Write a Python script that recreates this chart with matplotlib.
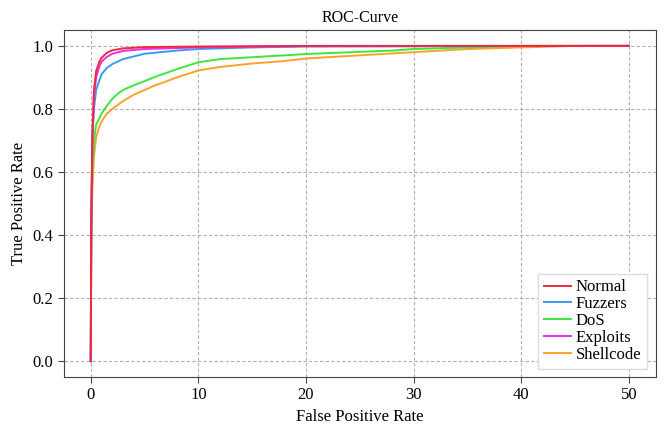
"""ROC curves for the per-class detector (FPR in percent)."""
import matplotlib
matplotlib.use("Agg")
import matplotlib.pyplot as plt

plt.rcParams["font.family"] = ["Liberation Serif", "DejaVu Serif"]

# FPR (%) / TPR points
normal_fpr = [0, 0.05, 0.15, 0.3, 0.5, 0.8, 1.0, 1.5, 2.0, 3.0, 5.0, 10, 20, 50]
normal_tpr = [0, 0.45, 0.72, 0.86, 0.92, 0.95, 0.962, 0.978, 0.986, 0.992, 0.996, 0.998, 1.0, 1.0]

fuzzers_fpr = [0, 0.05, 0.15, 0.3, 0.5, 1.0, 1.5, 2.0, 3.0, 5.0, 8.0, 10, 15, 20, 50]
fuzzers_tpr = [0, 0.45, 0.7, 0.8, 0.86, 0.91, 0.93, 0.942, 0.958, 0.975, 0.985, 0.99, 0.995, 0.998, 1.0]

dos_fpr = [0, 0.05, 0.15, 0.3, 0.5, 0.8, 1.0, 1.5, 2.0, 2.5, 3.0, 4.0, 5.0, 6.0, 7.0, 8.0,
           10, 12, 15, 18, 20, 22, 25, 28, 30, 35, 40, 50]
dos_tpr = [0, 0.4, 0.6, 0.7, 0.75, 0.77, 0.785, 0.81, 0.832, 0.848, 0.86, 0.875, 0.888, 0.902, 0.914, 0.926,
           0.948, 0.958, 0.964, 0.97, 0.974, 0.977, 0.981, 0.985, 0.99, 0.995, 1.0, 1.0]

exploits_fpr = [0, 0.05, 0.15, 0.3, 0.5, 0.8, 1.0, 1.5, 2.0, 3.0, 5.0, 10, 20, 50]
exploits_tpr = [0, 0.42, 0.7, 0.84, 0.9, 0.935, 0.95, 0.965, 0.975, 0.984, 0.99, 0.995, 0.999, 1.0]

shell_fpr = [0, 0.05, 0.15, 0.3, 0.5, 0.8, 1.0, 1.5, 2.0, 3.0, 4.0, 5.0, 6.0, 7.0, 8.0,
             10, 12, 15, 18, 20, 25, 30, 35, 40, 45, 50]
shell_tpr = [0, 0.35, 0.55, 0.65, 0.71, 0.745, 0.76, 0.785, 0.8, 0.825, 0.845, 0.86, 0.875, 0.887, 0.9,
             0.922, 0.933, 0.944, 0.952, 0.96, 0.97, 0.98, 0.99, 0.995, 1.0, 1.0]

labels = ["Normal", "Fuzzers", "DoS", "Exploits", "Shellcode"]
colors = ["#f0283c", "#3a9cf0", "#3ee63e", "#e632e6", "#f8a42a"]
curves = [(normal_fpr, normal_tpr), (fuzzers_fpr, fuzzers_tpr), (dos_fpr, dos_tpr),
          (exploits_fpr, exploits_tpr), (shell_fpr, shell_tpr)]

fig = plt.figure(figsize=(6.65, 4.24), dpi=100)
ax = fig.add_axes([0.096, 0.111, 0.89, 0.818])

# draw order: lower curves first so red/magenta sit on top like the reference
order = [4, 2, 1, 3, 0]
handles = {}
for i in order:
    x, y = curves[i]
    (h,) = ax.plot(x, y, color=colors[i], linewidth=1.4, label=labels[i])
    handles[i] = h

ax.set_xticks([0, 10, 20, 30, 40, 50])
ax.set_yticks([0.0, 0.2, 0.4, 0.6, 0.8, 1.0])
ax.grid(True, linestyle=(0, (3, 2)), color="#b0b0b0", linewidth=0.8)
ax.tick_params(labelsize=12, direction="out", length=4, color="#444444")
for s in ax.spines.values():
    s.set_color("#444444")

ax.set_title("ROC-Curve", fontsize=11.5)
ax.set_xlabel("False Positive Rate", fontsize=12)
ax.set_ylabel("True Positive Rate", fontsize=12)
ax.legend([handles[i] for i in range(5)], labels, loc="lower right", fontsize=12,
          handlelength=1.6, handletextpad=0.3, labelspacing=0.05, borderpad=0.35,
          fancybox=False, framealpha=1.0, edgecolor="#dddddd")

fig.savefig("out.png", dpi=100)
plt.close(fig)
